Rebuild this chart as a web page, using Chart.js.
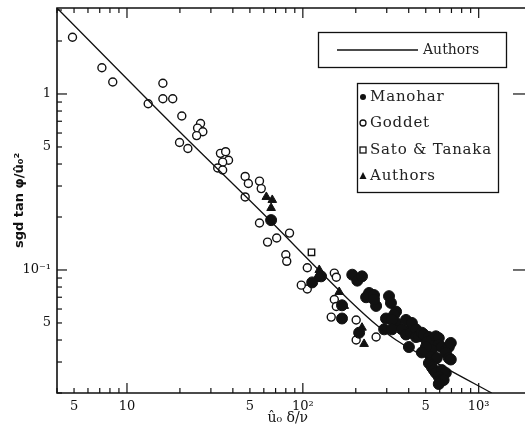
<!DOCTYPE html>
<html>
<head>
<meta charset="utf-8">
<script src="https://cdn.jsdelivr.net/npm/chart.js@4"></script>
<style>
html, body { margin: 0; padding: 0; background: #fff; }
canvas { display: block; }
</style>
</head>
<body>
<canvas id="chart" width="525" height="431"></canvas>
<script>
// tick positions and labels
const xTicks = [5, 10, 50, 100, 500, 1000];
const xTickLabels = ['5', '10', '5', '10²', '5', '10³'];
const yTicks = [0.05, 0.1, 0.5, 1];
const yTickLabels = ['5', '10⁻¹', '5', '1'];

// fitted curve (Authors)
const curveX = [4, 20, 56.7, 183, 271, 339, 650, 1186];
const curveY = [3.08, 0.608, 0.219, 0.0676, 0.0474, 0.040, 0.0277, 0.02];

// Goddet (open circles)
const goddetX = [4.9, 7.2, 8.3, 13.2, 16, 16, 18.2, 20.5, 19.9, 22.2, 26.2, 25.2, 27, 24.9, 34, 36.4, 37.8, 35, 32.8, 35,
  47, 49, 56.7, 58, 47, 56.7, 63, 71, 84, 80, 81, 106, 106, 98, 151, 155, 151, 155, 145, 201, 201, 261];
const goddetY = [2.1, 1.41, 1.17, 0.88, 1.15, 0.94, 0.94, 0.75, 0.53, 0.49, 0.68, 0.64, 0.61, 0.58, 0.46, 0.47, 0.42, 0.41, 0.38, 0.37,
  0.34, 0.31, 0.32, 0.29, 0.26, 0.185, 0.144, 0.152, 0.162, 0.122, 0.112, 0.103, 0.078, 0.082, 0.096, 0.091, 0.068, 0.062, 0.054, 0.052, 0.040, 0.0416];

// Sato & Tanaka (open squares)
const satoX = [112];
const satoY = [0.126];

// Authors (filled triangles)
const authorsX = [62, 67, 66, 124, 119, 161, 172, 217, 223];
const authorsY = [0.26, 0.25, 0.225, 0.1, 0.089, 0.075, 0.0625, 0.047, 0.038];

// Manohar (filled circles)
const manoharX = [66, 113, 127, 167, 167, 209, 191, 204, 217, 238,
  229, 254, 261, 254, 309, 317, 339, 330, 339, 297,
  321, 290, 321, 366, 386, 386, 417, 417, 412, 440,
  440, 457, 475, 488, 521, 507, 542, 571, 593, 593,
  542, 617, 650, 676, 694, 501, 401, 475, 535, 578,
  650, 676, 694, 521, 542, 556, 571, 617, 650, 593,
  609, 632, 593];
const manoharY = [0.192, 0.085, 0.092, 0.063, 0.053, 0.044, 0.094, 0.087, 0.092, 0.074,
  0.070, 0.072, 0.0625, 0.068, 0.071, 0.065, 0.058, 0.0555, 0.050, 0.053,
  0.052, 0.046, 0.046, 0.046, 0.052, 0.043, 0.047, 0.050, 0.044, 0.046,
  0.0416, 0.042, 0.044, 0.043, 0.0416, 0.039, 0.040, 0.042, 0.041, 0.0375,
  0.035, 0.0365, 0.035, 0.0365, 0.0385, 0.0365, 0.0365, 0.034, 0.032, 0.0316,
  0.0338, 0.0316, 0.031, 0.0296, 0.028, 0.027, 0.026, 0.027, 0.026, 0.0247,
  0.0237, 0.0237, 0.0225];

const pts = (xs, ys) => xs.map((v, i) => ({ x: v, y: ys[i] }));
const ink = '#111';

// box, inward ticks and the two legend boxes
const framePlugin = {
  id: 'frame',
  beforeDatasetsDraw(chart) {
    const { ctx, chartArea: a, scales: { x, y } } = chart;
    const edge = chart.width;
    ctx.save();
    ctx.strokeStyle = ink;
    ctx.lineWidth = 1.2;
    const seg = (x1, y1, x2, y2) => { ctx.beginPath(); ctx.moveTo(x1, y1); ctx.lineTo(x2, y2); ctx.stroke(); };
    for (let e = -2; e <= 3; e++) {
      for (let m = 1; m <= 9; m++) {
        const v = m * Math.pow(10, e);
        const len = m === 1 ? 10 : 5;
        if (v >= x.min && v <= x.max) {
          const px = x.getPixelForValue(v);
          seg(px, a.bottom, px, a.bottom - len);
          seg(px, a.top, px, a.top + len);
        }
        if (v >= y.min && v <= y.max) {
          const py = y.getPixelForValue(v);
          seg(a.left, py, a.left + len, py);
          if (m === 1) seg(edge, py, edge - 12, py);
        }
      }
    }
    ctx.lineWidth = 1.6;
    ctx.beginPath();
    ctx.moveTo(edge, a.top); ctx.lineTo(a.left, a.top);
    ctx.lineTo(a.left, a.bottom); ctx.lineTo(edge, a.bottom);
    ctx.stroke();
    ctx.restore();
  },
  afterDatasetsDraw(chart) {
    const { ctx } = chart;
    const ds = chart.data.datasets;
    ctx.save();
    ctx.strokeStyle = ink;
    ctx.lineWidth = 1.3;
    // box 1: curve
    ctx.fillStyle = '#fff';
    ctx.fillRect(318, 32, 188, 35);
    ctx.strokeRect(318.5, 32.5, 188, 35);
    ctx.beginPath(); ctx.moveTo(337, 50); ctx.lineTo(418, 50); ctx.stroke();
    ctx.fillStyle = '#222';
    ctx.font = '14px "DejaVu Serif"';
    ctx.textBaseline = 'middle';
    ctx.fillText(ds[0].label, 423, 50);
    // box 2: data sources
    ctx.fillStyle = '#fff';
    ctx.fillRect(357, 83, 141, 109);
    ctx.strokeRect(357.5, 83.5, 141, 109);
    ctx.fillStyle = ink;
    const rows = [97, 123, 150, 176];
    const mx = 363;
    ctx.beginPath(); ctx.arc(mx, rows[0], 3, 0, Math.PI * 2); ctx.fill();
    ctx.beginPath(); ctx.arc(mx, rows[1], 3, 0, Math.PI * 2); ctx.stroke();
    ctx.strokeRect(mx - 3, rows[2] - 3, 6, 6);
    ctx.beginPath(); ctx.moveTo(mx, rows[3] - 4); ctx.lineTo(mx + 3.5, rows[3] + 3); ctx.lineTo(mx - 3.5, rows[3] + 3); ctx.closePath(); ctx.fill();
    ctx.fillStyle = '#222';
    ctx.font = '15px "DejaVu Serif"';
    ctx.letterSpacing = '0.8px';
    [1, 2, 3, 4].forEach((k, i) => ctx.fillText(ds[k].label, 370, rows[i]));
    ctx.restore();
  }
};

new Chart(document.getElementById('chart'), {
  type: 'scatter',
  data: {
    datasets: [
      {
        label: 'Authors',
        data: pts(curveX, curveY),
        showLine: true,
        cubicInterpolationMode: 'monotone',
        borderColor: ink,
        borderWidth: 1.3,
        pointRadius: 0,
        fill: false
      },
      {
        label: 'Manohar',
        data: pts(manoharX, manoharY),
        pointStyle: 'circle',
        pointRadius: 5.5,
        backgroundColor: ink,
        borderColor: ink,
        borderWidth: 1
      },
      {
        label: 'Goddet',
        data: pts(goddetX, goddetY),
        pointStyle: 'circle',
        pointRadius: 4,
        backgroundColor: '#fff',
        borderColor: ink,
        borderWidth: 1.4
      },
      {
        label: 'Sato & Tanaka',
        data: pts(satoX, satoY),
        pointStyle: 'rect',
        pointRadius: 4.5,
        backgroundColor: '#fff',
        borderColor: ink,
        borderWidth: 1.4
      },
      {
        label: 'Authors',
        data: pts(authorsX, authorsY),
        pointStyle: 'triangle',
        pointRadius: 5,
        backgroundColor: ink,
        borderColor: ink,
        borderWidth: 1
      }
    ]
  },
  options: {
    responsive: false,
    animation: false,
    layout: { padding: { top: 8, right: 0, left: 0, bottom: 0 } },
    plugins: {
      legend: { display: false },
      tooltip: { enabled: false }
    },
    scales: {
      x: {
        type: 'logarithmic',
        min: 4,
        max: 1684,
        grid: { display: false, drawTicks: false },
        border: { display: false },
        afterFit: (s) => { s.height = 38; s.paddingLeft = 0; s.paddingRight = 0; },
        afterBuildTicks: (s) => { s.ticks = xTicks.map(v => ({ value: v })); },
        ticks: {
          autoSkip: false,
          maxRotation: 0,
          padding: 6,
          color: ink,
          font: { family: '"DejaVu Serif"', size: 13 },
          callback: (v, i) => xTickLabels[i]
        },
        title: {
          display: true,
          text: 'û₀ δ/ν',
          color: ink,
          font: { family: '"DejaVu Serif"', size: 14 },
          padding: { top: 0, bottom: 4 }
        }
      },
      y: {
        type: 'logarithmic',
        min: 0.02,
        max: 3.08,
        grid: { display: false, drawTicks: false },
        border: { display: false },
        afterFit: (s) => { s.width = 57; s.paddingTop = 0; s.paddingBottom = 0; },
        afterBuildTicks: (s) => { s.ticks = yTicks.map(v => ({ value: v })); },
        ticks: {
          autoSkip: false,
          padding: 6,
          color: ink,
          font: { family: '"DejaVu Serif"', size: 13 },
          callback: (v, i) => yTickLabels[i]
        },
        title: {
          display: true,
          text: 'sgd tan φ/û₀²',
          color: ink,
          font: { family: '"DejaVu Sans"', size: 13, weight: 'bold' },
          padding: { top: 12, bottom: 0 }
        }
      }
    }
  },
  plugins: [framePlugin]
});
</script>
</body>
</html>
